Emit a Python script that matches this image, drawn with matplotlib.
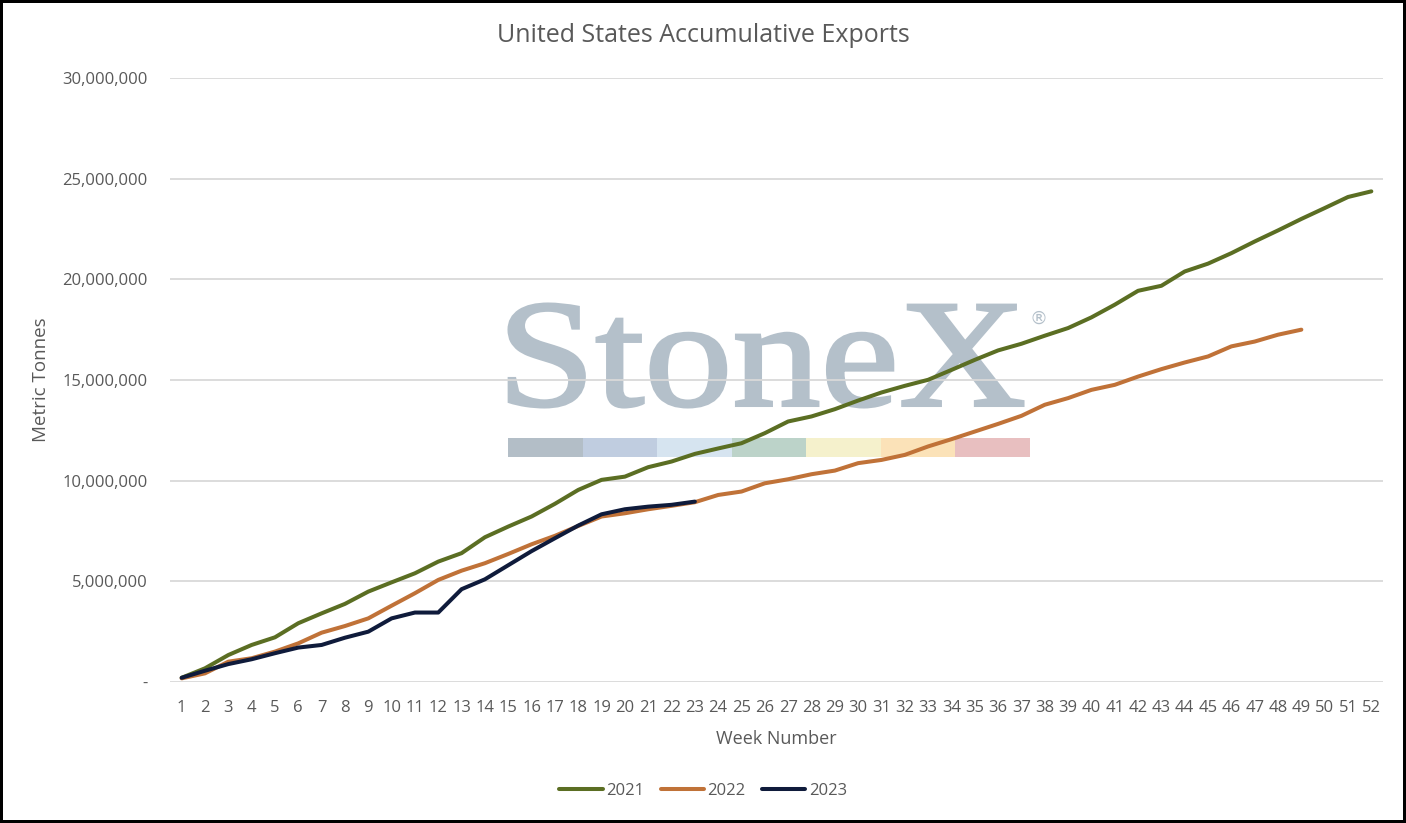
import matplotlib
matplotlib.use("Agg")
import matplotlib.pyplot as plt
import numpy as np
from matplotlib.textpath import TextPath
from matplotlib.patches import PathPatch, Rectangle
from matplotlib.font_manager import FontProperties
from matplotlib.transforms import Affine2D
from matplotlib.ticker import FuncFormatter

plt.rcParams['font.family'] = ['Open Sans', 'DejaVu Sans']

# Datos (toneladas métricas acumuladas por semana)
weeks = list(range(1, 53))
y2021 = [0.21, 0.68, 1.34, 1.84, 2.22, 2.92, 3.41, 3.88, 4.49, 4.95,
         5.40, 5.98, 6.40, 7.19, 7.72, 8.22, 8.85, 9.54, 10.04, 10.20,
         10.67, 10.95, 11.33, 11.60, 11.86, 12.36, 12.94, 13.19, 13.55, 13.98,
         14.38, 14.71, 15.01, 15.50, 16.00, 16.47, 16.80, 17.20, 17.58, 18.11,
         18.74, 19.43, 19.68, 20.39, 20.78, 21.30, 21.88, 22.43, 23.00, 23.54,
         24.09, 24.37]
y2022 = [0.18, 0.43, 1.01, 1.18, 1.51, 1.92, 2.45, 2.78, 3.16, 3.79,
         4.41, 5.07, 5.53, 5.90, 6.36, 6.84, 7.26, 7.75, 8.22, 8.38,
         8.58, 8.75, 8.93, 9.29, 9.46, 9.87, 10.07, 10.32, 10.50, 10.87,
         11.03, 11.28, 11.70, 12.06, 12.44, 12.82, 13.22, 13.77, 14.10, 14.51,
         14.76, 15.17, 15.54, 15.87, 16.17, 16.67, 16.91, 17.25, 17.50]
y2023 = [0.21, 0.56, 0.89, 1.13, 1.43, 1.71, 1.84, 2.20, 2.50, 3.16,
         3.45, 3.45, 4.61, 5.10, 5.80, 6.50, 7.14, 7.77, 8.33, 8.58,
         8.71, 8.80, 8.96]

series = [("2021", y2021, "#5b6e23"),
          ("2022", y2022, "#c07238"),
          ("2023", y2023, "#0f1b3b")]

gris = "#595959"

fig = plt.figure(figsize=(14.06, 8.23), dpi=100)
fig.patch.set_facecolor("white")
fig.patch.set_edgecolor("black")
fig.patch.set_linewidth(4)

# Marca de agua StoneX (en coordenadas de figura)
W, H = 1406, 823
prop = FontProperties(family="Liberation Serif")
tp = TextPath((0, 0), "StoneX", size=1, prop=prop)
ext = tp.get_extents()
x0, x1, ytop, ybot = 509, 1023, 304, 407
sx = (x1 - x0) / W / ext.width
sy = (ybot - ytop) / H / ext.height
tr = Affine2D().translate(-ext.x0, -ext.y0).scale(sx, sy).translate(x0 / W, 1 - ybot / H)
fig.patches.append(PathPatch(tp, transform=tr + fig.transFigure, facecolor="#b4c0ca",
                             edgecolor="#b4c0ca", linewidth=2.2, zorder=-1))
fig.text(1030 / W, 1 - 319 / H, "®", color="#b4c0ca", fontsize=13,
         family="DejaVu Sans", va="center", ha="left", zorder=-1)
bar_colors = ["#b3bec7", "#c0cde0", "#d6e4f0", "#bcd3c9", "#f5f1cc", "#fbe2b8", "#e8bfc0"]
seg = (1030 - 508) / 7
for i, c in enumerate(bar_colors):
    fig.patches.append(Rectangle(((508 + i * seg) / W, 1 - 457 / H), seg / W, 19 / H,
                                 transform=fig.transFigure, facecolor=c,
                                 edgecolor="none", zorder=-1))

ax = fig.add_axes([170 / W, 1 - 682 / H, (1383 - 170) / W, (682 - 78) / H])
ax.patch.set_alpha(0)

for name, vals, col in series:
    ax.plot(weeks[:len(vals)], np.array(vals) * 1e6, color=col, linewidth=2.9,
            label=name, solid_capstyle="round", solid_joinstyle="round", zorder=3)

ax.set_xlim(0.5, 52.5)
ax.set_ylim(0, 30e6)
ax.set_xticks(weeks)
ax.set_yticks(np.arange(0, 30e6 + 1, 5e6))
ax.yaxis.set_major_formatter(FuncFormatter(lambda v, p: "-" if v == 0 else f"{v:,.0f}"))
ax.grid(axis="y", color="#d9d9d9", linewidth=1.3, zorder=1)
ax.set_axisbelow(True)
for s in ax.spines.values():
    s.set_visible(False)
ax.tick_params(axis="both", length=0, labelsize=12, labelcolor=gris)
ax.tick_params(axis="y", pad=16)
ax.tick_params(axis="x", pad=13)

fig.text(0.5, 1 - 35 / H, "United States Accumulative Exports", fontsize=18,
         color=gris, ha="center", va="center")
ax.set_xlabel("Week Number", fontsize=13, color=gris, labelpad=10)
ax.set_ylabel("Metric Tonnes", fontsize=13.5, color=gris, labelpad=9)

leg = fig.legend(loc="center", bbox_to_anchor=(0.5, 1 - 791 / H),
                 ncol=3, frameon=False, fontsize=12, handlelength=2.6, columnspacing=1.0,
                 handletextpad=0.2)
for t in leg.get_texts():
    t.set_color(gris)

fig.savefig("out.png", dpi=100)
